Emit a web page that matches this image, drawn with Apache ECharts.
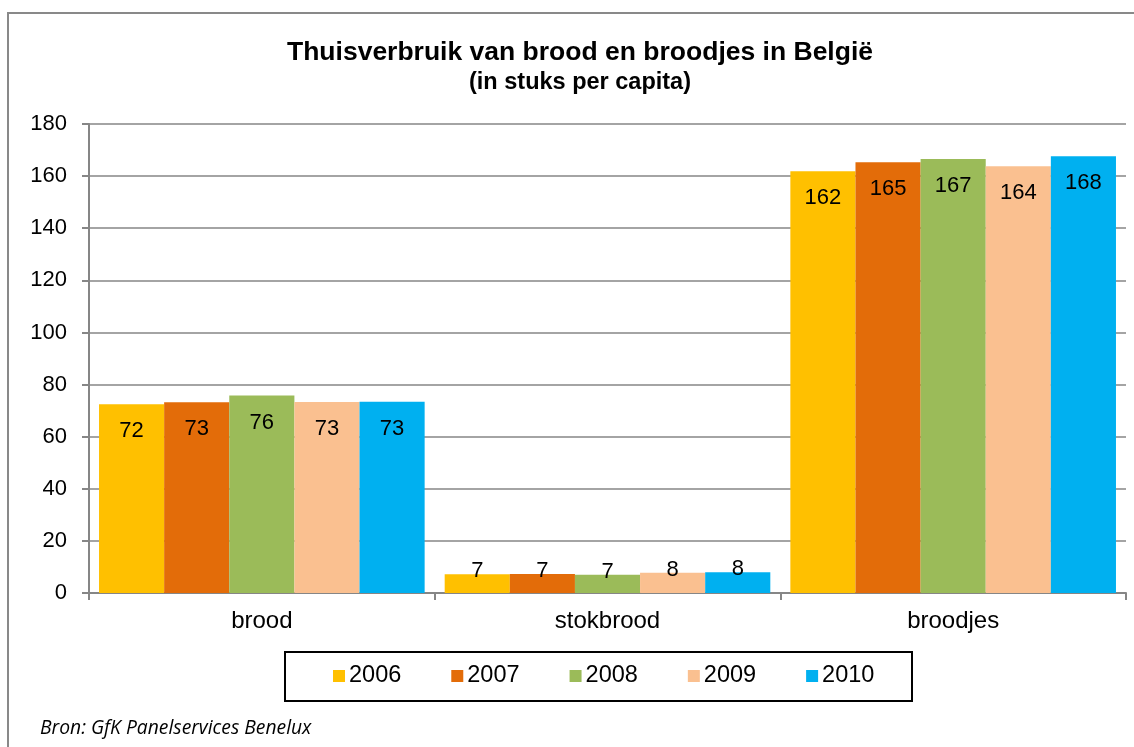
<!DOCTYPE html>
<html>
<head>
<meta charset="utf-8">
<script src="https://cdn.jsdelivr.net/npm/echarts@6/dist/echarts.min.js"></script>
<style>
html,body{margin:0;padding:0;background:#fff;}
#chart{width:1134px;height:747px;}
</style>
</head>
<body>
<div id="chart"></div>
<script>
const titleText = 'Thuisverbruik van brood en broodjes in België';
const subtitleText = '(in stuks per capita)';
const sourceText = 'Bron: GfK Panelservices Benelux';
const categories = ['brood', 'stokbrood', 'broodjes'];
const years = ['2006', '2007', '2008', '2009', '2010'];
const values2006 = [72.4, 7.2, 161.9];
const values2007 = [73.2, 7.3, 165.3];
const values2008 = [75.8, 7.0, 166.6];
const values2009 = [73.3, 7.8, 163.8];
const values2010 = [73.4, 8.0, 167.6];
const colors = ['#FFC000', '#E36C09', '#9BBB59', '#FAC090', '#00B0F0'];
const yTicks = { min: 0, max: 180, interval: 20 };

const seriesValues = [values2006, values2007, values2008, values2009, values2010];
const FONT = '"Liberation Sans", Arial, sans-serif';

const chart = echarts.init(document.getElementById('chart'), null, { renderer: 'canvas' });

const series = years.map((y, i) => ({
  name: y,
  type: 'bar',
  barGap: '0%',
  barCategoryGap: '5.8%',
  itemStyle: { color: colors[i] },
  data: seriesValues[i].map(v => {
    const small = v < 20;
    return {
      value: v,
      label: small
        ? { position: 'top', distance: -8 }
        : { position: 'insideTop', distance: 16 }
    };
  }),
  label: {
    show: true,
    color: '#000',
    fontFamily: FONT,
    fontSize: 22,
    formatter: p => String(Math.round(p.value))
  },
  emphasis: { disabled: true }
}));

chart.setOption({
  animation: false,
  backgroundColor: '#fff',
  color: colors,
  title: [
    {
      text: titleText,
      left: 575, top: 34, textAlign: 'center',
      textStyle: { fontFamily: FONT, fontWeight: 'bold', fontSize: 26.5, color: '#000' }
    },
    {
      text: subtitleText,
      left: 575, top: 66, textAlign: 'center',
      textStyle: { fontFamily: FONT, fontWeight: 'bold', fontSize: 23.5, color: '#000' }
    }
  ],
  grid: { left: 89, right: 8, top: 124, bottom: 154, containLabel: false },
  xAxis: {
    type: 'category',
    data: categories,
    axisLine: { lineStyle: { color: '#868686', width: 2 } },
    axisTick: { show: true, length: 7, lineStyle: { color: '#868686', width: 2 } },
    axisLabel: { color: '#000', fontFamily: FONT, fontSize: 24, margin: 16 },
    splitLine: { show: false }
  },
  yAxis: {
    type: 'value',
    min: yTicks.min, max: yTicks.max, interval: yTicks.interval,
    axisLine: { show: true, lineStyle: { color: '#868686', width: 2 } },
    axisTick: { show: true, length: 7, lineStyle: { color: '#868686', width: 2 } },
    axisLabel: { color: '#000', fontFamily: FONT, fontSize: 22, margin: 22 },
    splitLine: { lineStyle: { color: '#868686', width: 1.5 } }
  },
  legend: {
    data: years,
    left: 333, top: 664,
    padding: 0,
    icon: 'rect',
    itemWidth: 12, itemHeight: 12, itemGap: 50,
    textStyle: { fontFamily: FONT, fontSize: 23.5, color: '#000', padding: [0, 0, 0, -1] }
  },
  graphic: [
    {
      type: 'rect', silent: true, z: -1,
      shape: { x: 8, y: 13, width: 1140, height: 760 },
      style: { fill: null, stroke: '#898989', lineWidth: 2 }
    },
    {
      type: 'rect', silent: true,
      shape: { x: 285, y: 652, width: 627, height: 49 },
      style: { fill: null, stroke: '#000', lineWidth: 2 }
    },
    {
      type: 'text', silent: true,
      x: 40, y: 729,
      style: {
        text: sourceText,
        fontFamily: '"Open Sans", sans-serif',
        fontStyle: 'italic',
        fontSize: 19.3,
        fill: '#000',
        textVerticalAlign: 'middle'
      }
    }
  ],
  series: series
});
</script>
</body>
</html>
